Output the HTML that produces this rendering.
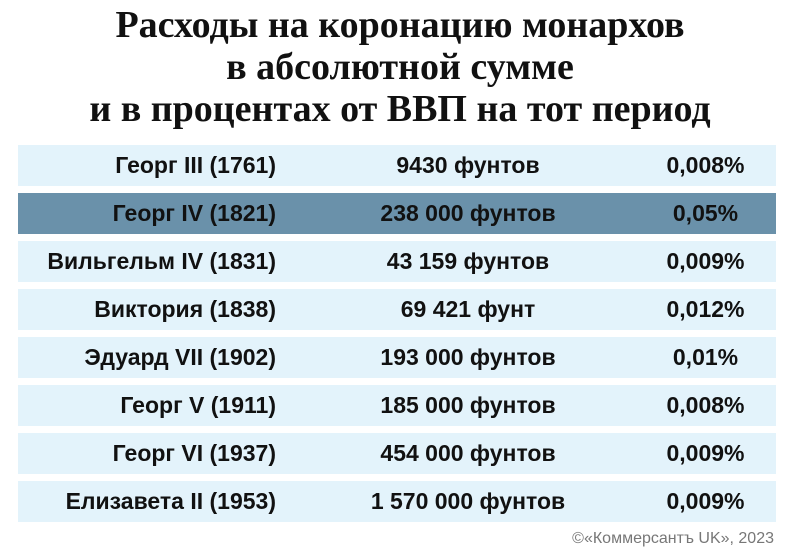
<!DOCTYPE html>
<html><head><meta charset="utf-8"><style>
body{margin:0;width:800px;height:557px;background:#fff;position:relative;overflow:hidden;font-family:"Liberation Sans Narrow","Liberation Sans",sans-serif}
#title{position:absolute;left:0;top:4px;width:800px;text-align:center;font-family:"Liberation Serif",serif;font-weight:bold;font-size:38px;line-height:42px;color:#111}
.row{position:absolute;left:18px;width:758px;height:41px;background:#e3f3fb}
.row.hl{background:#6a91aa}
.row div{position:absolute;top:0;line-height:41px;font-weight:bold;font-size:23px;color:#111;white-space:nowrap}
.n{right:500px;text-align:right}
.v{left:310px;width:280px;text-align:center}
.p{left:620px;width:135px;text-align:center}
#credit{position:absolute;right:26px;top:530px;font-size:16px;color:#777}
</style></head><body>
<div id="title">Расходы на коронацию монархов<br>в абсолютной сумме<br>и в процентах от ВВП на тот период</div>
<div id="table"></div>
<div id="credit">©«Коммерсантъ UK», 2023</div>
<script>
const monarchs=["Георг III (1761)","Георг IV (1821)","Вильгельм IV (1831)","Виктория (1838)","Эдуард VII (1902)","Георг V (1911)","Георг VI (1937)","Елизавета II (1953)"];
const costs=["9430 фунтов","238 000 фунтов","43 159 фунтов","69 421 фунт","193 000 фунтов","185 000 фунтов","454 000 фунтов","1 570 000 фунтов"];
const gdpShare=["0,008%","0,05%","0,009%","0,012%","0,01%","0,008%","0,009%","0,009%"];
const highlight=1;
const t=document.getElementById('table');
monarchs.forEach((m,i)=>{
 const r=document.createElement('div');
 r.className='row'+(i===highlight?' hl':'');
 r.style.top=(145+i*48)+'px';
 
 
 const a=document.createElement('div');a.className='n';a.textContent=m;
 
 
 const b=document.createElement('div');b.className='v';b.textContent=costs[i];
 
 
 const c=document.createElement('div');c.className='p';c.textContent=gdpShare[i];
 
 
 r.append(a,b,c);t.appendChild(r);
});
</script>
</body></html>
